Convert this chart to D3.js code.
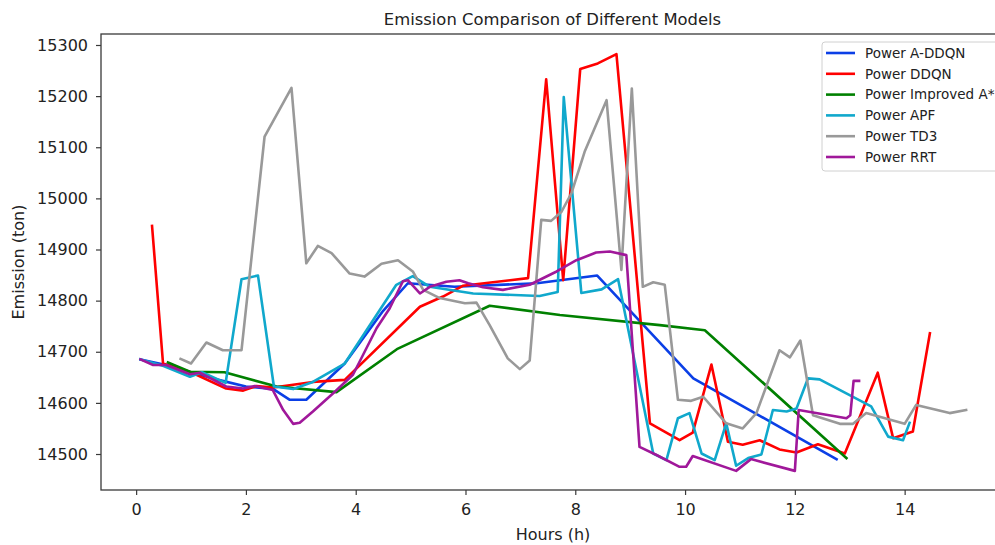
<!DOCTYPE html>
<html><head><meta charset="utf-8">
<script src="https://cdn.jsdelivr.net/npm/d3@7/dist/d3.min.js"></script>
<style>body{margin:0;background:#fff}svg{display:block;font-family:"DejaVu Sans",sans-serif}</style>
</head><body><svg id="c" width="995" height="545"></svg>
<script>
const xTicks = [0,2,4,6,8,10,12,14];
const yTicks = [14500,14600,14700,14800,14900,15000,15100,15200,15300];
const seriesNames = ["Power A-DDQN","Power DDQN","Power Improved A*","Power APF","Power TD3","Power RRT"];
const seriesColors = ["#0b3fe6","#ff0000","#008000","#10a8cc","#999999","#a0189a"];

const addqnHours = [0.08,0.5,1.0,1.5,2.0,2.5,2.8,3.1,3.8,4.5,4.95,5.8,7.3,8.4,10.15,12.76];
const addqnValues = [14685,14675,14660,14645,14632,14627,14606,14606,14677,14780,14834,14827,14834,14849,14648,14490];

const ddqnHours = [0.29,0.49,1.0,1.64,1.95,2.19,2.5,3.22,3.8,5.17,5.59,5.95,7.14,7.47,7.78,8.09,8.41,8.75,9.36,9.9,10.14,10.48,10.78,11.05,11.36,11.72,12.03,12.42,12.91,13.51,13.79,14.15,14.46];
const ddqnValues = [14946,14677,14660,14628,14624,14633,14630,14641,14645,14788,14808,14829,14844,15233,14840,15253,15264,15282,14560,14527,14542,14675,14524,14518,14527,14509,14503,14519,14501,14659,14531,14544,14736];

const astarHours = [0.58,0.98,1.61,2.56,3.65,4.75,6.44,7.72,9.54,10.36,12.94];
const astarValues = [14679,14661,14660,14632,14621,14705,14790,14772,14752,14742,14492];

const apfHours = [0.08,0.5,0.98,1.2,1.63,1.92,2.22,2.51,2.86,3.22,3.8,4.74,5.04,5.35,6.14,7.35,7.68,7.79,8.11,8.48,8.78,9.42,9.66,9.87,10.08,10.3,10.54,10.75,10.93,11.15,11.39,11.6,11.85,12.03,12.24,12.45,13.39,13.7,13.97,14.09];
const apfValues = [14685,14672,14651,14660,14639,14842,14849,14632,14627,14641,14677,14831,14848,14827,14814,14809,14817,15198,14815,14822,14842,14501,14488,14570,14580,14501,14488,14560,14477,14492,14499,14586,14583,14589,14648,14646,14593,14534,14527,14561];

const td3Hours = [0.81,1.0,1.28,1.58,1.92,2.34,2.83,3.1,3.31,3.56,3.89,4.16,4.47,4.77,5.04,5.23,5.53,5.99,6.2,6.44,6.77,6.99,7.17,7.38,7.56,7.75,7.93,8.17,8.57,8.84,9.03,9.23,9.42,9.63,9.87,10.11,10.33,10.75,11.05,11.3,11.72,11.91,12.1,12.33,12.82,13.06,13.3,14.0,14.21,14.82,15.12];
const td3Values = [14686,14677,14718,14703,14703,15121,15216,14873,14907,14893,14853,14847,14872,14879,14857,14821,14805,14795,14796,14752,14687,14666,14683,14958,14956,14974,15010,15091,15192,14860,15215,14827,14836,14831,14606,14604,14612,14560,14550,14580,14703,14689,14722,14576,14559,14559,14580,14559,14596,14580,14586];

const rrtHours = [0.08,0.31,0.55,0.98,1.16,1.64,1.95,2.16,2.49,2.68,2.86,2.98,3.22,3.59,3.95,4.38,4.62,4.86,4.95,5.17,5.35,5.65,5.89,6.05,6.32,6.68,7.17,7.66,8.02,8.38,8.63,8.93,9.17,9.48,9.9,10.02,10.14,10.93,11.2,12.0,12.07,12.94,13.01,13.07,13.17];
const rrtValues = [14685,14674,14674,14656,14659,14632,14628,14633,14625,14586,14559,14561,14583,14619,14655,14746,14785,14838,14840,14814,14827,14837,14840,14834,14826,14821,14831,14857,14879,14894,14896,14889,14514,14498,14475,14475,14496,14467,14490,14467,14586,14570,14576,14643,14643];

const seriesHours = [addqnHours,ddqnHours,astarHours,apfHours,td3Hours,rrtHours];
const seriesValues = [addqnValues,ddqnValues,astarValues,apfValues,td3Values,rrtValues];

const L=101, R=1004, T=34, B=490;
const x = d3.scaleLinear().domain([-0.64,15.81]).range([L,R]);
const y = d3.scaleLinear().domain([14429.6,15321.5]).range([B,T]);
const svg = d3.select("#c");

svg.append("defs").append("clipPath").attr("id","pc")
  .append("rect").attr("x",L).attr("y",T).attr("width",R-L).attr("height",B-T);

const line = d3.line().x(d=>x(d[0])).y(d=>y(d[1]));
const g = svg.append("g").attr("clip-path","url(#pc)");
seriesNames.forEach((n,i)=>{
  const pts = seriesHours[i].map((h,j)=>[h,seriesValues[i][j]]);
  g.append("path").datum(pts).attr("d",line).attr("fill","none")
   .attr("stroke",seriesColors[i]).attr("stroke-width",2.6)
   .attr("stroke-linejoin","round").attr("stroke-linecap","square");
});

// spines
const sp = svg.append("g").attr("stroke","#3a3a3a").attr("stroke-width",1.3).attr("fill","none");
sp.append("rect").attr("x",L).attr("y",T).attr("width",R-L).attr("height",B-T);

const xa = svg.append("g").attr("transform",`translate(0,${B})`)
  .call(d3.axisBottom(x).tickValues(xTicks).tickSize(5).tickPadding(9).tickFormat(d3.format("d")));
const ya = svg.append("g").attr("transform",`translate(${L},0)`)
  .call(d3.axisLeft(y).tickValues(yTicks).tickSize(5).tickPadding(8).tickFormat(d3.format("d")));
[xa,ya].forEach(a=>{
  a.select(".domain").remove();
  a.selectAll(".tick line").attr("stroke","#3a3a3a").attr("stroke-width",1.2);
  a.selectAll(".tick text").attr("fill","#222").style("font-size","16px").style("font-family","DejaVu Sans");
});

svg.append("text").attr("x",(L+R)/2).attr("y",25).attr("text-anchor","middle")
  .attr("fill","#222").style("font-size","16.4px").text("Emission Comparison of Different Models");
svg.append("text").attr("x",553).attr("y",540).attr("text-anchor","middle")
  .attr("fill","#222").style("font-size","16px").text("Hours (h)");
svg.append("text").attr("transform",`translate(24,${(T+B)/2}) rotate(-90)`).attr("text-anchor","middle")
  .attr("fill","#222").style("font-size","16px").text("Emission (ton)");

// legend
const lg = svg.append("g");
lg.append("rect").attr("x",822).attr("y",42).attr("width",190).attr("height",129)
  .attr("rx",3).attr("fill","#fff").attr("fill-opacity",0.85).attr("stroke","#d0d0d0");
seriesNames.forEach((n,i)=>{
  const yy = 53 + i*20.8;
  lg.append("line").attr("x1",826).attr("x2",855).attr("y1",yy).attr("y2",yy)
    .attr("stroke",seriesColors[i]).attr("stroke-width",2.6);
  lg.append("text").attr("x",865).attr("y",yy+4.8).attr("fill","#222")
    .style("font-size","13.5px").text(n);
});
</script></body></html>
